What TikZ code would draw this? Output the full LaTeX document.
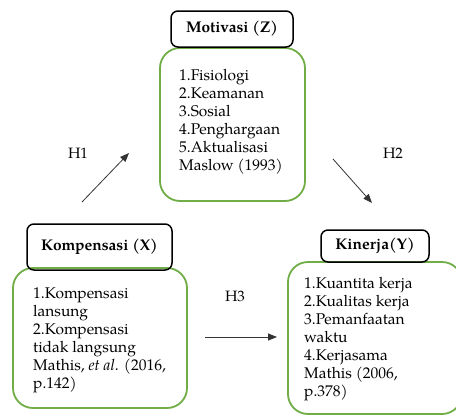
\documentclass[tikz,border=0pt]{standalone}
\usepackage{fontspec}
\setmainfont{TeX Gyre Pagella}
\usetikzlibrary{arrows.meta}
\definecolor{boxgreen}{RGB}{112,173,71}
\begin{document}
\begin{tikzpicture}[x=1pt,y=-1pt,
  headbox/.style={draw=black,line width=1.5pt,rounded corners=7pt,font=\bfseries\fontsize{15.5}{18}\selectfont,inner sep=0pt},
  greenbox/.style={draw=boxgreen,line width=1.8pt,rounded corners=20pt,inner sep=0pt},
  listtext/.style={anchor=west,align=left,inner sep=0pt,font=\fontsize{15.5}{18}\selectfont},
  hlabel/.style={font=\fontsize{15}{18}\selectfont,inner sep=0pt},
  hyparrow/.style={draw=black!80,line width=0.8pt,-{Triangle[length=9pt,width=7pt]}}]
\useasboundingbox (0,0) rectangle (456,416);

% Motivasi (Z)
\node[greenbox,minimum width=145pt,minimum height=153pt] (zbox) at (232.5,124.5) {};
\node[headbox,minimum width=122pt,minimum height=36pt] (zhead) at (232,29) {Motivasi (Z)};
\node[listtext] (ztext) at (179,121.5) {1.Fisiologi\\2.Keamanan\\3.Sosial\\4.Penghargaan\\5.Aktualisasi\\Maslow (1993)};

% Kompensasi (X)
\node[greenbox,minimum width=174pt,minimum height=140pt] (xbox) at (100,338) {};
\node[headbox,minimum width=145pt,minimum height=46pt] (xhead) at (99.5,247) {Kompensasi (X)};
\node[listtext] (xtext) at (33,340.5) {1.Kompensasi\\lansung\\2.Kompensasi\\tidak langsung\\Mathis, \textit{et al}. (2016,\\p.142)};

% Kinerja (Y)
\node[greenbox,minimum width=174pt,minimum height=152pt] (ybox) at (375,338) {};
\node[headbox,minimum width=108pt,minimum height=32pt] (yhead) at (375,246) {Kinerja(Y)};
\node[listtext] (ytext) at (304,339.5) {1.Kuantita kerja\\2.Kualitas kerja\\3.Pemanfaatan\\waktu\\4.Kerjasama\\Mathis (2006,\\p.378)};

% Hypotheses
\node[hlabel] (h1) at (78,153) {H1};
\node[hlabel] (h2) at (393,153) {H2};
\node[hlabel] (h3) at (235,296) {H3};

\coordinate (h1s) at (82,202);
\coordinate (h1e) at (129,153);
\coordinate (h2s) at (333,159);
\coordinate (h2e) at (372,203);
\coordinate (h3s) at (205,337);
\coordinate (h3e) at (277,337);

\draw[hyparrow] (h1s) -- (h1e);
\draw[hyparrow] (h2s) -- (h2e);
\draw[hyparrow] (h3s) -- (h3e);
\end{tikzpicture}
\end{document}
